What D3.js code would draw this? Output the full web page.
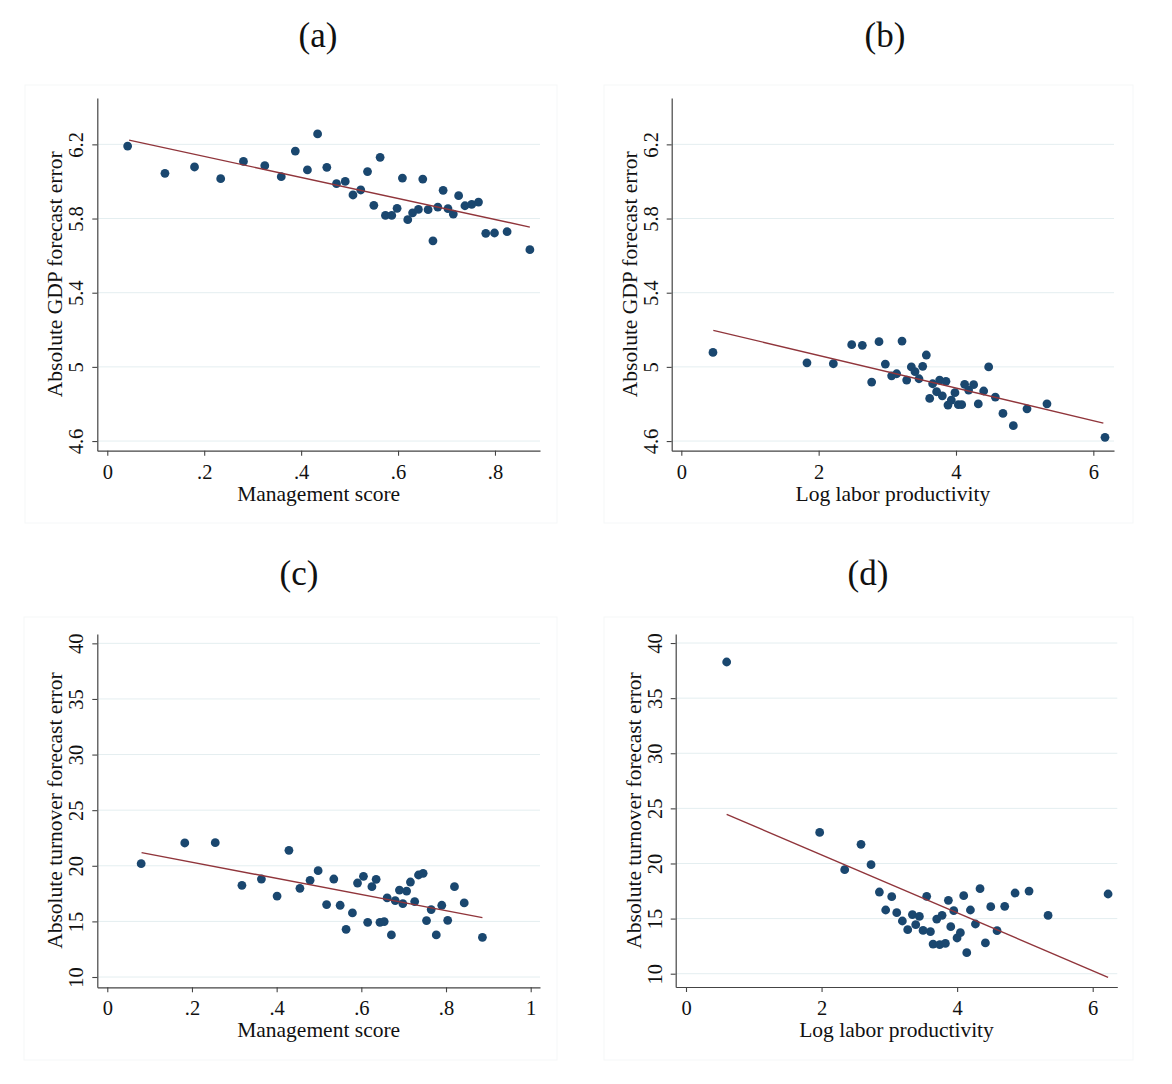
<!DOCTYPE html>
<html>
<head>
<meta charset="utf-8">
<script src="https://cdn.jsdelivr.net/npm/d3@7"></script>
<style>
  body { margin: 0; background: #fff; }
  svg text { font-family: "Liberation Serif", "Times New Roman", serif; fill: #111; }
</style>
</head>
<body>
<svg id="chart" width="1172" height="1084"></svg>
<script>
// ---- data ----
const mgmtScoreA = [0.042,0.119,0.180,0.234,0.281,0.325,0.359,0.388,0.413,0.434,0.453,0.473,0.491,0.507,0.523,0.537,0.550,0.563,0.574,0.587,0.598,0.609,0.620,0.630,0.642,0.651,0.662,0.672,0.682,0.693,0.703,0.714,0.725,0.738,0.752,0.766,0.781,0.799,0.825,0.872];
const gdpErrA = [6.191,6.044,6.078,6.015,6.108,6.085,6.026,6.164,6.062,6.256,6.076,5.988,6.000,5.927,5.954,6.053,5.871,6.130,5.817,5.817,5.855,6.018,5.794,5.831,5.849,6.013,5.848,5.680,5.862,5.952,5.853,5.824,5.923,5.869,5.876,5.889,5.720,5.722,5.729,5.632];
const fitXA = [0.045, 0.872];
const fitYA = [6.223, 5.754];

const prodB = [0.461,1.830,2.214,2.481,2.636,2.772,2.879,2.971,3.063,3.136,3.214,3.282,3.350,3.403,3.461,3.515,3.568,3.617,3.660,3.718,3.762,3.801,3.854,3.883,3.932,3.985,4.034,4.083,4.126,4.184,4.257,4.325,4.403,4.476,4.573,4.684,4.835,5.034,5.325,6.170];
const gdpErrB = [5.078,5.022,5.017,5.120,5.116,4.918,5.136,5.015,4.952,4.963,5.139,4.929,5.000,4.974,4.936,5.003,5.064,4.830,4.909,4.866,4.929,4.844,4.922,4.794,4.821,4.861,4.796,4.796,4.906,4.875,4.904,4.800,4.870,5.000,4.837,4.749,4.683,4.774,4.801,4.620];
const fitXB = [0.466, 6.146];
const fitYB = [5.197, 4.697];

const mgmtScoreC = [0.080,0.183,0.255,0.318,0.364,0.401,0.429,0.455,0.479,0.498,0.518,0.535,0.550,0.564,0.579,0.591,0.605,0.615,0.625,0.635,0.644,0.654,0.661,0.671,0.680,0.690,0.698,0.707,0.716,0.726,0.735,0.746,0.754,0.765,0.777,0.790,0.804,0.820,0.843,0.886];
const turnErrC = [20.19,22.05,22.08,18.24,18.81,17.28,21.39,17.97,18.69,19.56,16.51,18.81,16.45,14.29,15.76,18.45,19.05,14.92,18.12,18.78,14.92,14.98,17.11,13.78,16.87,17.82,16.60,17.73,18.54,16.78,19.17,19.32,15.07,16.06,13.78,16.45,15.10,18.12,16.66,13.57];
const fitXC = [0.081, 0.886];
const fitYC = [21.18, 15.34];

const prodD = [0.600,1.972,2.341,2.582,2.730,2.853,2.946,3.035,3.109,3.192,3.271,3.340,3.389,3.443,3.497,3.551,3.606,3.645,3.699,3.743,3.778,3.827,3.871,3.906,3.950,3.999,4.048,4.097,4.142,4.196,4.270,4.338,4.417,4.496,4.589,4.702,4.855,5.061,5.342,6.227];
const turnErrD = [38.28,22.82,19.44,21.74,19.89,17.41,15.78,16.99,15.54,14.78,13.99,15.36,14.45,15.20,13.93,17.02,13.81,12.69,14.96,12.63,15.30,12.75,16.66,14.27,15.72,13.24,13.72,17.08,11.91,15.78,14.51,17.71,12.79,16.08,13.90,16.11,17.32,17.50,15.29,17.23];
const fitXD = [0.600, 6.227];
const fitYD = [24.46, 9.67];

const mgmtTicks = [0, 0.2, 0.4, 0.6, 0.8];
const mgmtTicksC = [0, 0.2, 0.4, 0.6, 0.8, 1];
const prodTicks = [0, 2, 4, 6];
const gdpTicks = [4.6, 5, 5.4, 5.8, 6.2];
const turnTicks = [10, 15, 20, 25, 30, 35, 40];

const titles = ["(a)", "(b)", "(c)", "(d)"];
const xLabels = ["Management score", "Log labor productivity", "Management score", "Log labor productivity"];
const yLabels = ["Absolute GDP forecast error", "Absolute GDP forecast error",
                 "Absolute turnover forecast error", "Absolute turnover forecast error"];

// ---- layout ----
const panels = [
  { x: mgmtScoreA, y: gdpErrA, fx: fitXA, fy: fitYA, xt: mgmtTicks, yt: gdpTicks,
    box: [25, 85, 557, 523], l: 97.3, r: 540, t: 98, b: 450.7,
    xd: [-0.0206, 0.8929], yd: [4.548, 6.45], tx: 318, ty: 47 },
  { x: prodB, y: gdpErrB, fx: fitXB, fy: fitYB, xt: prodTicks, yt: gdpTicks,
    box: [604, 85, 1133, 523], l: 671.7, r: 1114, t: 98, b: 450.7,
    xd: [-0.14, 6.301], yd: [4.548, 6.45], tx: 885, ty: 47 },
  { x: mgmtScoreC, y: turnErrC, fx: fitXC, fy: fitYC, xt: mgmtTicksC, yt: turnTicks,
    box: [24, 617, 557, 1060], l: 97.3, r: 540, t: 634, b: 987.3,
    xd: [-0.0236, 1.022], yd: [9.074, 40.84], tx: 299, ty: 585 },
  { x: prodD, y: turnErrD, fx: fitXD, fy: fitYD, xt: prodTicks, yt: turnTicks,
    box: [604, 617, 1133, 1060], l: 675.7, r: 1117.3, t: 634, b: 987,
    xd: [-0.152, 6.363], yd: [8.793, 40.82], tx: 868, ty: 585 }
];

const svg = d3.select("#chart");
const fmt = d => d === 0 ? "0" : String(d).replace(/^0\./, ".");

panels.forEach((p, i) => {
  const g = svg.append("g");
  const x = d3.scaleLinear().domain(p.xd).range([p.l, p.r]);
  const y = d3.scaleLinear().domain(p.yd).range([p.b, p.t]);

  // faint panel frame
  g.append("rect")
    .attr("x", p.box[0]).attr("y", p.box[1])
    .attr("width", p.box[2] - p.box[0]).attr("height", p.box[3] - p.box[1])
    .attr("fill", "none").attr("stroke", "#f5f7f8").attr("stroke-width", 1);

  // gridlines
  g.selectAll(".grid")
    .data(p.yt)
    .join("line")
    .attr("x1", p.l).attr("x2", p.r)
    .attr("y1", d => y(d)).attr("y2", d => y(d))
    .attr("stroke", "#e4eef0").attr("stroke-width", 1);

  // axes
  const xAxis = g.append("g")
    .attr("transform", `translate(0,${p.b})`)
    .call(d3.axisBottom(x).tickValues(p.xt).tickFormat(fmt).tickSize(5).tickSizeOuter(0));
  xAxis.selectAll(".tick text")
    .attr("dy", null).attr("y", 28)
    .style("font-size", "20.5px");

  const yAxis = g.append("g")
    .attr("transform", `translate(${p.l},0)`)
    .call(d3.axisLeft(y).tickValues(p.yt).tickFormat(fmt).tickSize(5).tickSizeOuter(0));
  yAxis.selectAll(".tick text")
    .attr("x", null).attr("dy", null)
    .attr("text-anchor", "middle")
    .attr("transform", "translate(-14,0) rotate(-90)")
    .style("font-size", "20.5px");

  [xAxis, yAxis].forEach(a => {
    a.select(".domain").attr("stroke", "#444").attr("stroke-width", 1.2);
    a.selectAll(".tick line").attr("stroke", "#444").attr("stroke-width", 1.1);
    a.selectAll(".tick text").attr("fill", "#111");
  });

  // scatter points
  g.selectAll(".pt")
    .data(p.x.map((v, k) => [v, p.y[k]]))
    .join("circle")
    .attr("cx", d => x(d[0])).attr("cy", d => y(d[1]))
    .attr("r", 4.4)
    .attr("fill", "#1a476f");

  // fitted line
  const line = d3.line().x(d => x(d[0])).y(d => y(d[1]));
  g.append("path")
    .attr("d", line(p.fx.map((v, k) => [v, p.fy[k]])))
    .attr("fill", "none").attr("stroke", "#90353b").attr("stroke-width", 1.4);

  // labels
  g.append("text")
    .attr("x", (p.l + p.r) / 2).attr("y", p.b + 50)
    .attr("text-anchor", "middle").style("font-size", "21.5px")
    .text(xLabels[i]);

  g.append("text")
    .attr("transform", `translate(${p.l - 35},${(p.t + p.b) / 2}) rotate(-90)`)
    .attr("text-anchor", "middle").style("font-size", "21.5px")
    .text(yLabels[i]);

  g.append("text")
    .attr("x", p.tx).attr("y", p.ty)
    .attr("text-anchor", "middle").style("font-size", "35px")
    .text(titles[i]);
});
</script>
</body>
</html>
